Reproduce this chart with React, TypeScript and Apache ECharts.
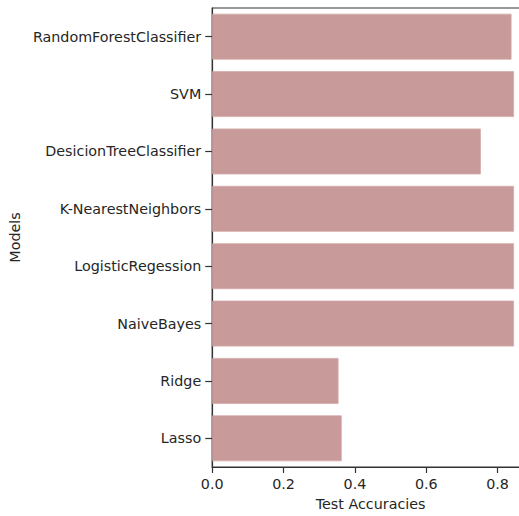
import React, { useEffect, useRef } from "react";
import * as echarts from "echarts";

const models = [
  "RandomForestClassifier",
  "SVM",
  "DesicionTreeClassifier",
  "K-NearestNeighbors",
  "LogisticRegession",
  "NaiveBayes",
  "Ridge",
  "Lasso",
];
const accuracies = [0.839, 0.846, 0.753, 0.846, 0.846, 0.846, 0.354, 0.363];
const xTicks = [0, 0.2, 0.4, 0.6, 0.8];

const FONT = "DejaVu Sans";
const TEXT = "#262626";
const AXIS = "#333333";
const FS = 14.3;

export default function App() {
  const ref = useRef<HTMLDivElement>(null);
  useEffect(() => {
    if (!ref.current) return;
    const chart = echarts.init(ref.current, null, { renderer: "svg" });
    chart.setOption({
      animation: false,
      textStyle: { fontFamily: FONT },
      grid: {
        left: 211,
        right: 11,
        top: 8,
        bottom: 43,
        show: true,
        borderColor: AXIS,
        borderWidth: 1.2,
      },
      xAxis: {
        type: "value",
        min: 0,
        max: 0.888,
        interval: 0.2,
        name: "Test Accuracies",
        nameLocation: "middle",
        nameGap: 30,
        nameTextStyle: { fontFamily: FONT, fontSize: FS, color: TEXT },
        splitLine: { show: false },
        axisLine: { show: true, lineStyle: { color: AXIS, width: 1.2 } },
        axisTick: { show: true, length: 6, lineStyle: { color: AXIS, width: 1.2 } },
        axisLabel: {
          fontFamily: FONT,
          fontSize: FS,
          color: TEXT,
          margin: 10,
          showMaxLabel: false,
          formatter: (v: number) =>
            xTicks.some((t) => Math.abs(t - v) < 1e-6) ? v.toFixed(1) : "",
        },
      },
      yAxis: {
        type: "category",
        data: models,
        inverse: true,
        name: "Models",
        nameLocation: "middle",
        nameGap: 180,
        nameRotate: 90,
        nameTextStyle: { fontFamily: FONT, fontSize: FS, color: TEXT },
        axisLine: { show: true, lineStyle: { color: AXIS, width: 1.2 } },
        axisTick: {
          show: true,
          alignWithLabel: true,
          length: 7,
          lineStyle: { color: AXIS, width: 1.2 },
        },
        axisLabel: {
          fontFamily: FONT,
          fontSize: FS,
          color: TEXT,
          margin: 11,
        },
        splitLine: { show: false },
      },
      series: [
        {
          type: "bar",
          data: accuracies,
          barCategoryGap: "20%",
          itemStyle: {
            color: "#c99a9a",
            borderColor: "#d4aaaa",
            borderWidth: 0.8,
          },
        },
      ],
    });
    return () => chart.dispose();
  }, []);
  return (
    <div
      style={{
        position: "fixed",
        left: 0,
        top: 0,
        width: 519,
        height: 516,
        overflow: "hidden",
        background: "#fff",
      }}
    >
      <div ref={ref} style={{ width: 540, height: 516 }} />
    </div>
  );
}
